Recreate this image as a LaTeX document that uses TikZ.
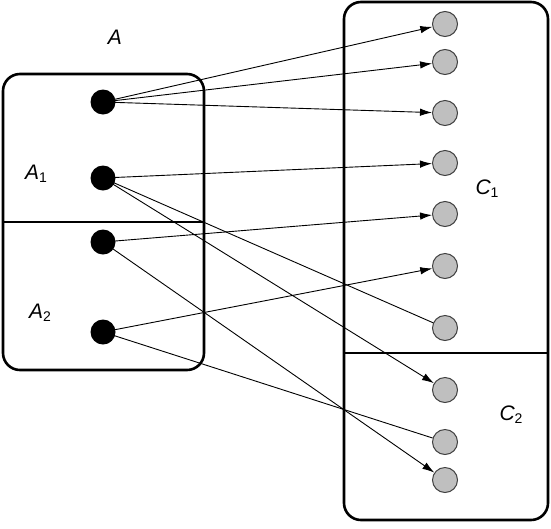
\documentclass[tikz,border=0pt]{standalone}
\usepackage{fontspec}
\setmainfont{Liberation Sans}
\usetikzlibrary{arrows.meta}
\begin{document}
\begin{tikzpicture}[x=1pt,y=-1pt,
  frame/.style={line width=2.6pt,rounded corners=17pt},
  divider/.style={line width=1.6pt},
  src/.style={circle,fill=black,inner sep=0pt,minimum size=25pt},
  tgt/.style={circle,fill=gray!50,draw=black!75,line width=1pt,inner sep=0pt,minimum size=25pt},
  conn/.style={line width=0.9pt},
  arr/.style={conn,-{Latex[length=12pt,width=7.5pt]}},
  lbl/.style={font=\fontsize{21}{24}\selectfont\itshape,inner sep=0pt}]
\useasboundingbox (0,0) rectangle (551,528);
% boxes
\draw[frame] (3,74) rectangle (204,370);
\draw[divider] (3,222) -- (204,222);
\draw[frame] (344,2) rectangle (548,520);
\draw[divider] (344,353) -- (548,353);
% labels
\node[lbl] (lA) at (115,37) {A};
\node[lbl] (lA1) at (36,174) {A\raisebox{-0.25ex}{\fontsize{14}{16}\selectfont\upshape 1}};
\node[lbl] (lA2) at (40,313) {A\raisebox{-0.25ex}{\fontsize{14}{16}\selectfont\upshape 2}};
\node[lbl] (lC1) at (487,189) {C\raisebox{-0.25ex}{\fontsize{14}{16}\selectfont\upshape 1}};
\node[lbl] (lC2) at (511,415) {C\raisebox{-0.25ex}{\fontsize{14}{16}\selectfont\upshape 2}};
% target dots
\foreach \n/\y in {1/24,2/62,3/113,4/163,5/214,6/266,7/328,8/390,9/442,10/480}
  \node[tgt] (g\n) at (445,\y) {};
% connectors (drawn before source dots)
\coordinate (c1) at (103,102);
\coordinate (c2) at (103,178);
\coordinate (c3) at (103,242);
\coordinate (c4) at (103,332);
\draw[arr] (c1) -- (g1);
\draw[arr] (c1) -- (g2);
\draw[arr] (c1) -- (g3);
\draw[arr] (c2) -- (g4);
\draw[conn] (c2) -- (g7);
\draw[arr] (c2) -- (g8);
\draw[arr] (c3) -- (g5);
\draw[arr] (c3) -- (g10);
\draw[arr] (c4) -- (g6);
\draw[conn] (c4) -- (g9);
% source dots
\node[src] (d1) at (c1) {};
\node[src] (d2) at (c2) {};
\node[src] (d3) at (c3) {};
\node[src] (d4) at (c4) {};
\end{tikzpicture}
\end{document}
